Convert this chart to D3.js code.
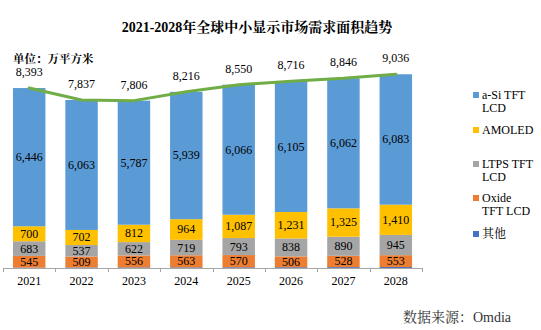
<!DOCTYPE html>
<html>
<head>
<meta charset="utf-8">
<script src="https://cdn.jsdelivr.net/npm/d3@7"></script>
<style>
  html, body { margin: 0; padding: 0; background: #fff; }
  svg { display: block; }
</style>
</head>
<body>
<svg id="chart" width="541" height="330"></svg>
<script>
// Small/medium display demand area, 2021-2028 (unit: 10k m²)
const years   = ["2021", "2022", "2023", "2024", "2025", "2026", "2027", "2028"];
const aSi     = [6446, 6063, 5787, 5939, 6066, 6105, 6062, 6083];
const amoled  = [700, 702, 812, 964, 1087, 1231, 1325, 1410];
const ltps    = [683, 537, 622, 719, 793, 838, 890, 945];
const oxide   = [545, 509, 556, 563, 570, 506, 528, 553];
const other   = [19, 26, 29, 31, 34, 36, 41, 45];
const totals  = [8393, 7837, 7806, 8216, 8550, 8716, 8846, 9036];

const seriesNames = ["a-Si TFT LCD", "AMOLED", "LTPS TFT LCD", "Oxide TFT LCD", "其他"];
const legendLines = [["a-Si TFT", "LCD"], ["AMOLED"], ["LTPS TFT", "LCD"], ["Oxide", "TFT LCD"], ["其他"]];

const colors = {
  "a-Si TFT LCD": "#5B9BD5",
  "AMOLED": "#FFC000",
  "LTPS TFT LCD": "#A5A5A5",
  "Oxide TFT LCD": "#ED7D31",
  "其他": "#4472C4"
};

// Latin-only strings use the serif face directly; strings with Han characters add a CJK serif
const LATIN = '"Liberation Serif"';
const MIXED = '"Liberation Serif", "Noto Serif CJK SC"';
const fontFor = s => /[\u3000-\u9fff\uff00-\uffef]/.test(s) ? MIXED : LATIN;

const rows = years.map((y, i) => ({
  year: y,
  "a-Si TFT LCD": aSi[i],
  "AMOLED": amoled[i],
  "LTPS TFT LCD": ltps[i],
  "Oxide TFT LCD": oxide[i],
  "其他": other[i],
  total: totals[i]
}));

const svg = d3.select("#chart");

const x = d3.scaleBand()
  .domain(years)
  .range([3, 422])
  .paddingInner(0.38)
  .paddingOuter(0.19);

const baseY = 268;
const y = d3.scaleLinear().domain([0, 10000]).range([baseY, baseY - 214.4]);

// stack from the bottom up
const stackKeys = ["其他", "Oxide TFT LCD", "LTPS TFT LCD", "AMOLED", "a-Si TFT LCD"];
const stacked = d3.stack().keys(stackKeys)(rows);

const layers = svg.append("g").selectAll("g")
  .data(stacked)
  .join("g")
  .attr("fill", d => colors[d.key]);

layers.selectAll("rect")
  .data(d => d)
  .join("rect")
  .attr("x", d => x(d.data.year))
  .attr("width", x.bandwidth())
  .attr("y", d => y(d[1]))
  .attr("height", d => y(d[0]) - y(d[1]));

// segment value labels (the tiny "其他" slice has none)
const labelled = stacked.filter(s => s.key !== "其他");
svg.append("g").selectAll("g")
  .data(labelled)
  .join("g")
  .selectAll("text")
  .data(d => d.map(p => ({ p, key: d.key })))
  .join("text")
  .text(d => d3.format(",")(d.p.data[d.key]))
  .style("font-family", LATIN)
  .style("font-size", "12px")
  .attr("x", d => x(d.p.data.year) + x.bandwidth() / 2)
  .attr("y", d => (y(d.p[0]) + y(d.p[1])) / 2)
  .attr("dy", "0.33em")
  .attr("text-anchor", "middle")
  .attr("fill", "#000");

// x axis
const axisG = svg.append("g");
axisG.append("line")
  .attr("x1", x.range()[0]).attr("x2", x.range()[1])
  .attr("y1", baseY + 0.5).attr("y2", baseY + 0.5)
  .attr("stroke", "#A6A6A6").attr("stroke-width", 1);
const bounds = d3.range(years.length + 1).map(i => x.range()[0] + i * x.step());
axisG.selectAll("line.tick")
  .data(bounds)
  .join("line")
  .attr("class", "tick")
  .attr("x1", d => Math.round(d) + 0.5).attr("x2", d => Math.round(d) + 0.5)
  .attr("y1", baseY).attr("y2", baseY + 4)
  .attr("stroke", "#A6A6A6");
axisG.selectAll("text")
  .data(years)
  .join("text")
  .text(d => d)
  .style("font-family", LATIN)
  .style("font-size", "12px")
  .attr("x", d => x(d) + x.bandwidth() / 2)
  .attr("y", 285)
  .attr("text-anchor", "middle")
  .attr("fill", "#000");

// total trend line
const line = d3.line()
  .x(d => x(d.year) + x.bandwidth() / 2)
  .y(d => y(d.total));
svg.append("path")
  .datum(rows)
  .attr("d", line)
  .attr("fill", "none")
  .attr("stroke", "#70AD47")
  .attr("stroke-width", 3)
  .attr("stroke-linejoin", "round")
  .attr("stroke-linecap", "round");

svg.append("g").selectAll("text")
  .data(rows)
  .join("text")
  .text(d => d3.format(",")(d.total))
  .style("font-family", LATIN)
  .style("font-size", "12px")
  .attr("x", d => x(d.year) + x.bandwidth() / 2)
  .attr("y", d => y(d.total) - 12)
  .attr("text-anchor", "middle")
  .attr("fill", "#000");

// title and unit
const title = "2021-2028年全球中小显示市场需求面积趋势";
svg.append("text")
  .text(title)
  .style("font-family", fontFor(title))
  .style("font-weight", "bold")
  .style("font-size", "14px")
  .attr("x", 257).attr("y", 32)
  .attr("text-anchor", "middle")
  .attr("fill", "#000");

const unit = "单位：万平方米";
svg.append("text")
  .text(unit)
  .style("font-family", fontFor(unit))
  .style("font-weight", "bold")
  .style("font-size", "11.5px")
  .attr("x", 13).attr("y", 63)
  .attr("fill", "#000");

// legend
const legendTops = [95, 130, 164, 198, 234];
const legend = svg.append("g").selectAll("g")
  .data(seriesNames)
  .join("g")
  .attr("transform", (d, i) => `translate(473, ${legendTops[i]})`);
legend.append("rect")
  .attr("x", 0).attr("y", -3)
  .attr("width", 6).attr("height", 6)
  .attr("fill", d => colors[d]);
legend.each(function (d, i) {
  d3.select(this).selectAll("text")
    .data(legendLines[i])
    .join("text")
    .text(t => t)
    .style("font-family", t => fontFor(t))
    .style("font-size", "12px")
    .attr("x", 9)
    .attr("y", (t, j) => j * 12.5)
    .attr("dy", "0.35em")
    .attr("fill", "#000");
});

// source note
const source = "数据来源：Omdia";
svg.append("text")
  .text(source)
  .style("font-family", fontFor(source))
  .style("font-size", "14px")
  .attr("x", 511).attr("y", 321.5)
  .attr("text-anchor", "end")
  .attr("fill", "#333");
</script>
</body>
</html>
